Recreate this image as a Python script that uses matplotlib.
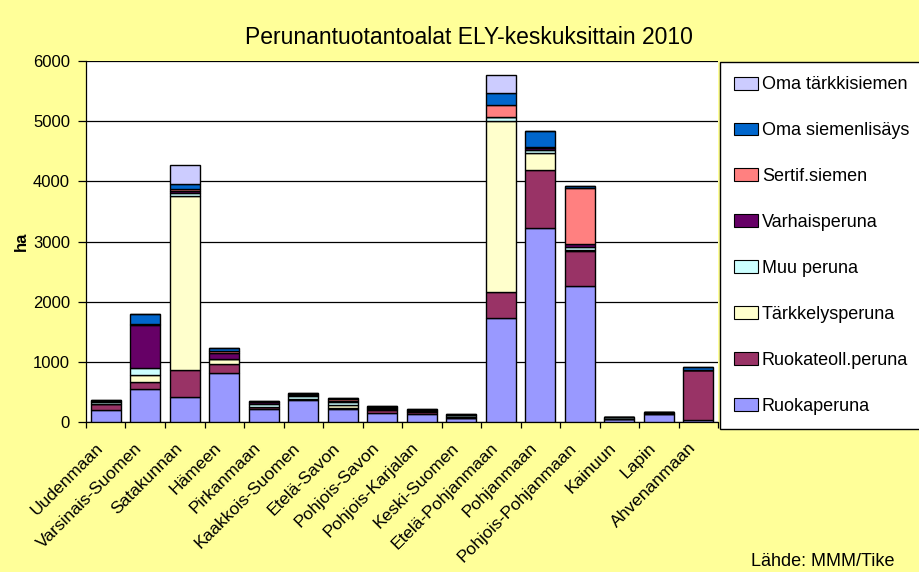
import matplotlib
matplotlib.use("Agg")
import matplotlib.pyplot as plt
import numpy as np
from matplotlib.patches import Rectangle
from matplotlib.legend_handler import HandlerPatch
from matplotlib.transforms import ScaledTranslation

plt.rcParams['font.family'] = ['Liberation Sans', 'DejaVu Sans']

categories = ["Uudenmaan", "Varsinais-Suomen", "Satakunnan", "Hämeen", "Pirkanmaan",
              "Kaakkois-Suomen", "Etelä-Savon", "Pohjois-Savon", "Pohjois-Karjalan",
              "Keski-Suomen", "Etelä-Pohjanmaan", "Pohjanmaan", "Pohjois-Pohjanmaan",
              "Kainuun", "Lapin", "Ahvenanmaan"]

ruokaperuna      = [200, 545, 417, 822, 211, 365, 215, 156, 128, 61, 1728, 3222, 2256, 44, 130, 25]
ruokateoll       = [95, 116, 439, 145, 35, 10, 10, 44, 45, 10, 433, 967, 583, 5, 10, 831]
tarkkely         = [10, 122, 2900, 77, 10, 10, 55, 10, 5, 5, 2845, 289, 20, 5, 5, 5]
muu_peruna       = [20, 111, 44, 10, 40, 40, 55, 30, 10, 40, 60, 44, 52, 30, 10, 5]
varhaisperuna    = [20, 723, 39, 100, 30, 30, 15, 10, 15, 5, 10, 34, 50, 0, 10, 5]
sertif_siemen    = [10, 10, 30, 20, 10, 5, 25, 5, 3, 2, 191, 10, 933, 0, 2, 0]
oma_siemenlisays = [12, 160, 92, 54, 14, 15, 19, 12, 5, 5, 205, 267, 23, 5, 5, 51]
oma_tarkkisiemen = [0, 0, 311, 0, 0, 0, 0, 0, 0, 0, 289, 0, 0, 0, 0, 0]

series_names = ["Ruokaperuna", "Ruokateoll.peruna", "Tärkkelysperuna", "Muu peruna",
                "Varhaisperuna", "Sertif.siemen", "Oma siemenlisäys", "Oma tärkkisiemen"]
series_values = [ruokaperuna, ruokateoll, tarkkely, muu_peruna, varhaisperuna,
                 sertif_siemen, oma_siemenlisays, oma_tarkkisiemen]
colors = ["#9999FF", "#993366", "#FFFFCC", "#CCFFFF", "#660066", "#FF8080", "#0066CC", "#CCCCFF"]

W, H = 920, 572
fig = plt.figure(figsize=(W / 100, H / 100), dpi=100)
fig.patch.set_facecolor("#FFFF99")

ax = fig.add_axes([86 / W, 1 - 422 / H, (718 - 86) / W, (422 - 61) / H])
ax.set_facecolor("white")

x = np.arange(len(categories))
bottom = np.zeros(len(categories))
for name, vals, c in zip(series_names, series_values, colors):
    v = np.array(vals, dtype=float)
    ax.bar(x, v, bottom=bottom, width=0.77, color=c, edgecolor="black",
           linewidth=1.0, label=name, zorder=3)
    bottom += v

ax.set_xlim(-0.5, len(categories) - 0.5)
ax.set_ylim(0, 6000)
ax.set_yticks(np.arange(0, 6001, 1000))
ax.yaxis.grid(True, color="black", linewidth=0.9, zorder=0)
ax.tick_params(axis="y", direction="out", length=6, width=0.9, labelsize=12, pad=5.5)

ax.set_xticks(x)
ax.set_xticklabels(categories, rotation=45, ha="right", rotation_mode="anchor", fontsize=12.5)
ax.tick_params(axis="x", which="major", length=0, pad=13)
shift = ScaledTranslation(-0.105, 0, fig.dpi_scale_trans)
for lab in ax.get_xticklabels():
    lab.set_transform(lab.get_transform() + shift)
ax.set_xticks(np.arange(-0.5, len(categories), 1.0), minor=True)
ax.tick_params(axis="x", which="minor", direction="out", length=4, width=0.9)

for s in ["top", "right"]:
    ax.spines[s].set_visible(False)
ax.spines["left"].set_linewidth(0.9)
ax.spines["bottom"].set_linewidth(0.9)

ax.set_ylabel("ha", fontsize=12, fontweight="bold")
ax.yaxis.set_label_coords((29 - 86) / 632, 0.5)

fig.text(469 / W, 1 - 37 / H, "Perunantuotantoalat ELY-keskuksittain 2010",
         ha="center", va="center", fontsize=16.5)
fig.text(895 / W, 1 - 561 / H, "Lähde: MMM/Tike", ha="right", va="center", fontsize=13)


def square_patch(legend, orig_handle, xdescent, ydescent, width, height, fontsize):
    s = 9.4
    return Rectangle((-xdescent + width - s, -ydescent + (height - s) / 2), s, s)


handles, labels = ax.get_legend_handles_labels()
leg = fig.legend(handles[::-1], labels[::-1], loc="upper left",
                 bbox_to_anchor=(720 / W, 1 - 62 / H), fontsize=13,
                 frameon=True, fancybox=False, edgecolor="black", framealpha=1,
                 labelspacing=1.6, handlelength=1.31, handleheight=0.72,
                 handletextpad=0.2, borderpad=0.8, borderaxespad=0,
                 handler_map={Rectangle: HandlerPatch(patch_func=square_patch)})
leg.get_frame().set_linewidth(1.0)
for h in leg.legend_handles:
    h.set_linewidth(0.8)

fig.savefig("out.png", dpi=100, facecolor=fig.get_facecolor())
